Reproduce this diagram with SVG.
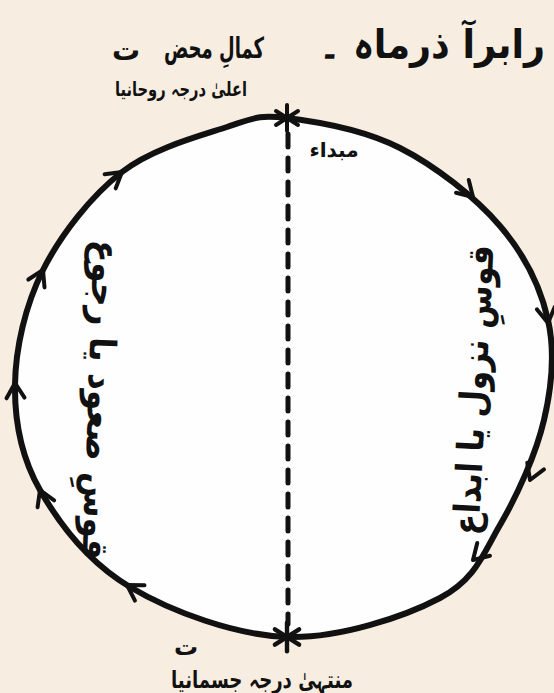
<svg xmlns="http://www.w3.org/2000/svg" width="554" height="693" viewBox="0 0 554 693">
<style>
.ink{fill:none;stroke:#111;stroke-linecap:round;stroke-linejoin:round}
.t{font-family:"DejaVu Sans",sans-serif;font-weight:bold;fill:#111}
</style>
<defs>
<polyline id="chev" points="-15,-9 0,0 -15,9" class="ink" stroke-width="4"/>
<g id="star" class="ink" stroke-width="4">
<line x1="0" y1="-13" x2="0" y2="13"/>
<line x1="-11" y1="-7" x2="11" y2="7"/>
<line x1="-11" y1="7" x2="11" y2="-7"/>
</g>
</defs>
<rect width="554" height="693" fill="#f8ede1"/>
<g id="circle">
<path d="M287,118 C315.8,121.5 364.5,130 400,148 C435.5,166 475.3,197.3 500,226 C524.7,254.7 540.7,287.7 548,320 C555.3,352.3 552,385.8 544,420 C536,454.2 517.3,495.3 500,525 C482.7,554.7 475.5,579.3 440,598 C404.5,616.7 338.7,638.8 287,637 C235.3,635.2 171.2,611.5 130,587 C88.8,562.5 59.2,523.7 40,490 C20.8,456.3 14.5,421.7 15,385 C15.5,348.3 25.2,305.5 43,270 C60.8,234.5 91.3,195.8 122,172 C152.7,148.2 199.5,136 227,127 C254.5,118 258.2,114.5 287,118 Z" fill="#fefefe" stroke="#111" stroke-width="6"/>
</g>
<g id="connectors">
<line x1="288" y1="134" x2="288" y2="624" class="ink" stroke-width="5" stroke-dasharray="13 11" stroke-linecap="butt"/>
<use href="#chev" transform="translate(473,197) rotate(45)"/>
<use href="#chev" transform="translate(548,323) rotate(82)"/>
<use href="#chev" transform="translate(530,480) rotate(112)"/>
<use href="#chev" transform="translate(473,560) rotate(135)"/>
<use href="#chev" transform="translate(127,585) rotate(212)"/>
<use href="#chev" transform="translate(40,490) rotate(-113)"/>
<use href="#chev" transform="translate(15,383) rotate(-92)"/>
<use href="#chev" transform="translate(43,270) rotate(-64)"/>
<use href="#chev" transform="translate(122,172) rotate(-38)"/>
</g>
<g id="top-node">
<use href="#star" transform="translate(287,118)"/>
<text class="t" x="214" y="58" font-size="29" text-anchor="middle" textLength="100" lengthAdjust="spacingAndGlyphs">کمالِ محض</text>
<text class="t" x="126" y="60" font-size="28" text-anchor="middle">ت</text>
<text class="t" x="181" y="96" font-size="20" text-anchor="middle" textLength="132" lengthAdjust="spacingAndGlyphs">اعلیٰ درجہ روحانیا</text>
<text class="t" x="334" y="157" font-size="20" text-anchor="middle">مبداء</text>
</g>
<g id="bottom-node">
<use href="#star" transform="translate(287,637) scale(1.1)"/>
<text class="t" x="186" y="655" font-size="24" text-anchor="middle">ت</text>
<text class="t" x="262" y="688" font-size="24" text-anchor="middle" textLength="182" lengthAdjust="spacingAndGlyphs">منتہیٰ درجہ جسمانیا</text>
</g>
<g id="heading">
<text class="t" x="432" y="58" font-size="40" text-anchor="middle" textLength="226" lengthAdjust="spacingAndGlyphs">رابرآ ذرماہ ۔</text>
</g>
<g id="right-arc">
<text class="t" transform="translate(474,390) rotate(-87)" x="0" y="12" font-size="36" text-anchor="middle" textLength="290" lengthAdjust="spacingAndGlyphs">قوسِ نزول یا ابداع</text>
</g>
<g id="left-arc">
<text class="t" transform="translate(100,400) rotate(92)" x="0" y="12" font-size="36" text-anchor="middle" textLength="320" lengthAdjust="spacingAndGlyphs">قوسِ صعود یا رجوع</text>
</g>
</svg>
